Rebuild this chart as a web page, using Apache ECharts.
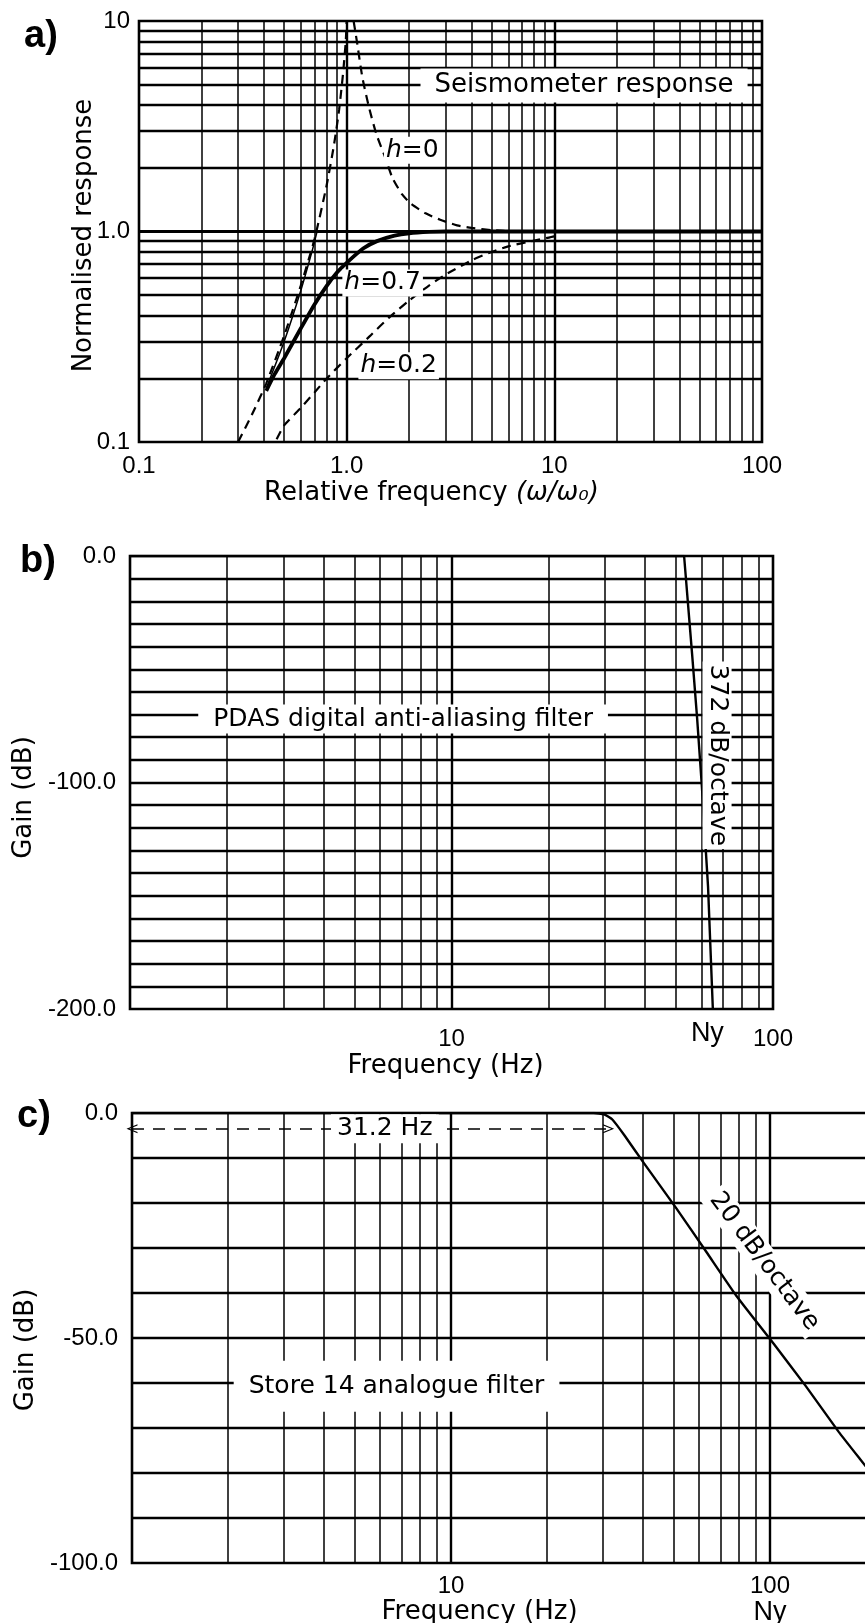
<!DOCTYPE html>
<html><head><meta charset="utf-8">
<script src="https://cdn.jsdelivr.net/npm/echarts@6/dist/echarts.min.js"></script>
<style>html,body{margin:0;padding:0;background:#fff}#c{width:865px;height:1623px}</style>
</head><body><div id="c"></div>
<script>
// ---------- Panel a data (relative frequency, normalised response) ----------
const aH0Left  = [[0.3,0.1],[0.35,0.135],[0.41,0.19],[0.5,0.32],[0.6,0.55],[0.7,0.92],[0.8,1.65],[0.87,2.6],[0.92,3.8],[0.96,5.6],[0.99,8],[1.0,10]];
const aH0Right = [[1.08,10],[1.12,8],[1.19,5.4],[1.28,3.9],[1.39,2.9],[1.52,2.3],[1.66,1.8],[1.85,1.5],[2.05,1.35],[2.4,1.22],[2.8,1.14],[3.4,1.07],[4,1.04],[5,1.015],[6.5,1.0],[100,1.0]];
const aThin    = [[0.41,0.18],[0.5,0.3],[0.6,0.52],[0.68,0.8],[0.72,1.0]];
const aH07     = [[0.41,0.175],[0.45,0.21],[0.5,0.25],[0.6,0.345],[0.7,0.45],[0.8,0.55],[0.9,0.64],[1.0,0.71],[1.2,0.83],[1.4,0.9],[1.7,0.955],[2,0.98],[2.5,0.995],[3,1.0],[100,1.0]];
const aH02     = [[0.46,0.103],[0.5,0.12],[0.6,0.145],[0.7,0.172],[0.8,0.2],[1,0.25],[1.3,0.32],[1.6,0.39],[2,0.47],[2.5,0.555],[3,0.625],[4,0.73],[5,0.8],[6,0.85],[8,0.905],[10,0.95],[10.5,0.985]];
const aGridX = [0.2,0.3,0.4,0.5,0.6,0.7,0.8,0.9,1,2,3,4,5,6,7,8,9,10,20,30,40,50,60,70,80,90];
const aGridY = [0.2,0.3,0.4,0.5,0.6,0.7,0.8,0.9,1,2,3,4,5,6,7,8,9];
const aMajor = [1,10];
const aXLabels = {'-1':'0.1','0':'1.0','1':'10','2':'100'};
const aYLabels = {'-1':'0.1','0':'1.0','1':'10'};

// ---------- Panel b data (Hz, dB) ----------
const bCurve = [[1,0],[52.9,0],[56,-43],[58.1,-72],[60.1,-102],[62.8,-146],[65,-200]];
const bGridX = [2,3,4,5,6,7,8,9,10,20,30,40,50,60,70,80,90];
const bGridY = [-10,-20,-30,-40,-50,-60,-70,-80,-90,-100,-110,-120,-130,-140,-150,-160,-170,-180,-190];
const bXLabels = {'0':'','1':'10','2':'100'};
const bNy = 62.5;

// ---------- Panel c data (Hz, dB) ----------
const cCurve = [[1,0],[28,0],[30.2,-0.3],[32.1,-1.5],[35,-5],[40.3,-11.2],[51,-21.3],[63.2,-30.9],[78.4,-40.6],[103,-51.4],[129.5,-60.7],[164,-70.8],[192,-77],[230,-84]];
const cArrow = [[1,-3.5],[31.2,-3.5]];
const cGridX = [2,3,4,5,6,7,8,9,10,20,30,40,50,60,70,80,90,100,200,300,400,500,600,700,800,900];
const cGridY = [-10,-20,-30,-40,-50,-60,-70,-80,-90];
const cXLabels = {'0':'','1':'10','2':'100','3':'1000'};
const cNy = 100;

// ---------- styling helpers ----------
const TF = '"DejaVu Sans", "Liberation Sans", sans-serif';
const NF = '"Liberation Sans", Arial, sans-serif';
const lg = v => Math.round(Math.log10(v));

function gridLines(i, vx, vy, majors) {
  const d = vx.map(v => ({xAxis: v, lineStyle: {width: majors.includes(v) ? 2.4 : 1.5}}))
    .concat(vy.map(v => ({yAxis: v, lineStyle: {width: majors.includes(v) ? 2.8 : 2.4}})));
  return {type:'line', xAxisIndex:i, yAxisIndex:i, data:[], z:1, silent:true, symbol:'none',
    markLine:{silent:true, symbol:['none','none'], label:{show:false}, animation:false,
      lineStyle:{type:'solid', color:'#000'}, emphasis:{disabled:true}, data:d}};
}
function curve(i, data, w, dashed, smooth) {
  return {type:'line', xAxisIndex:i, yAxisIndex:i, data:data, z:3, symbol:'none', silent:true,
    smooth: smooth, lineStyle:{color:'#000', width:w, type: dashed ? [9,6] : 'solid'}};
}
function note(i, pos, text, opt) {
  opt = opt || {};
  return {type:'scatter', xAxisIndex:i, yAxisIndex:i, data:[pos], symbolSize:0, z:5, silent:true,
    label:{show:true, position: opt.position || 'inside', distance: opt.distance || 0,
      formatter:text, color:'#000', opacity:1, textBorderWidth:0, textBorderColor:'transparent',
      textShadowBlur:0, fontSize: opt.size || 25, fontFamily: opt.font || TF,
      backgroundColor: opt.bg === false ? 'transparent' : '#fff', padding: opt.pad || [2,4],
      rotate: opt.rotate || 0,
      rich:{i:{fontStyle:'italic', fontSize: opt.size || 25, fontFamily: TF, color:'#000'}}}};
}
function xAx(i, min, max, labels, margin, name, gap, nameStyle, extra) {
  return Object.assign({gridIndex:i, type:'log', logBase:10, min:min, max:max,
    axisLine:{show:false}, axisTick:{show:false}, splitLine:{show:false}, minorSplitLine:{show:false},
    axisLabel:{show:true, margin:margin, fontSize:24, fontFamily:NF, color:'#000', showMinLabel:true, showMaxLabel:true,
      formatter: v => labels[lg(v)] || ''},
    name:name, nameLocation:'middle', nameGap:gap,
    nameTextStyle: Object.assign({fontSize:26, fontFamily:TF, color:'#000'}, nameStyle || {})}, extra || {});
}
function yAxVal(i, min, max, interval, margin, name, gap, nameStyle) {
  return {gridIndex:i, type:'value', min:min, max:max, interval:interval,
    axisLine:{show:false}, axisTick:{show:false}, splitLine:{show:false},
    axisLabel:{margin:margin, fontSize:24, fontFamily:NF, color:'#000', formatter: v => v.toFixed(1)},
    name:name, nameLocation:'middle', nameGap:gap,
    nameTextStyle: Object.assign({fontSize:26, fontFamily:TF, color:'#000'}, nameStyle || {})};
}

const chart = echarts.init(document.getElementById('c'), null, {renderer:'canvas'});
const border = {show:true, borderColor:'#000', borderWidth:2.6, backgroundColor:'transparent', containLabel:false, outerBoundsMode:'none'};
const chevron = 'path://M0,10 L5,0 L10,10 L8.6,10 L5,2.6 L1.4,10 Z';
chart.setOption({
  animation:false,
  backgroundColor:'#fff',
  grid:[
    Object.assign({left:139, top:21, width:623, height:421}, border),
    Object.assign({left:130, top:556, width:643, height:453}, border),
    Object.assign({left:132, top:1113, width:957, height:450}, border)
  ],
  xAxis:[
    xAx(0, 0.1, 100, aXLabels, 12, 'Relative frequency {i|(ω/ω₀)}', 38,
      {padding:[0,38,0,0], rich:{i:{fontStyle:'italic', fontSize:26, fontFamily:TF, color:'#000'}}}),
    xAx(1, 1, 100, bXLabels, 18, 'Frequency (Hz)', 44, {padding:[0,12,0,0]}),
    xAx(2, 1, 1000, cXLabels, 11, 'Frequency (Hz)', 34, {padding:[0,262,0,0]})
  ],
  yAxis:[
    xAx(0, 0.1, 10, aYLabels, 9, 'Normalised response', 42, {padding:[0,8,0,0]}, {nameMoveOverlap:false}),
    yAxVal(1, -200, 0, 100, 14, 'Gain (dB)', 91, {padding:[0,30,0,0]}),
    yAxVal(2, -100, 0, 50, 14, 'Gain (dB)', 91, {padding:[0,24,0,0]})
  ],
  graphic:[
    {type:'text', left:24, top:18, style:{text:'a)', font:'bold 38px "Liberation Sans"', fill:'#000'}},
    {type:'text', left:20, top:543, style:{text:'b)', font:'bold 38px "Liberation Sans"', fill:'#000'}},
    {type:'text', left:17, top:1098, style:{text:'c)', font:'bold 38px "Liberation Sans"', fill:'#000'}}
  ],
  series:[
    gridLines(0, aGridX, aGridY, aMajor),
    curve(0, aH0Left, 2.2, true, 0.2),
    curve(0, aH0Right, 2.2, true, 0.2),
    curve(0, aThin, 1.5, false, 0.2),
    curve(0, aH07, 3.8, false, 0.2),
    curve(0, aH02, 2.2, true, 0.2),
    note(0, [13.9, 4.94], 'Seismometer response', {pad:[4,14], size:26}),
    note(0, [2.07, 2.43], '{i|h}=0', {pad:[1,2]}),
    note(0, [1.49, 0.57], '{i|h}=0.7', {pad:[1,2]}),
    note(0, [1.78, 0.23], '{i|h}=0.2', {pad:[1,2]}),

    gridLines(1, bGridX, bGridY, [10]),
    curve(1, bCurve, 2.4, false, false),
    note(1, [7.07, -72], 'PDAS digital anti-aliasing filter', {pad:[2,15]}),
    note(1, [67, -88], '372 dB/octave', {pad:[2,3], rotate:-90}),
    note(1, [bNy, -200], 'Ny', {position:'bottom', distance:9, bg:false, size:27, font:NF, pad:0}),

    gridLines(2, cGridX, cGridY, [10,100]),
    curve(2, cCurve, 2.4, false, 0.15),
    {type:'line', xAxisIndex:2, yAxisIndex:2, data:[], z:4, silent:true,
      markLine:{silent:true, animation:false, label:{show:false},
        symbol:[chevron, chevron], symbolSize:[9,11],
        lineStyle:{type:[12,9], color:'#000', width:1.7},
        data:[[{coord:cArrow[0]},{coord:cArrow[1]}]]}},
    note(2, [6.2, -3.5], '31.2 Hz', {pad:[2,6]}),
    note(2, [6.75, -60.7], 'Store 14 analogue filter', {pad:[13,15]}),
    note(2, [96, -33], '20 dB/octave', {pad:[2,4], rotate:-53}),
    note(2, [cNy, -100], 'Ny', {position:'bottom', distance:34, bg:false, size:27, font:NF, pad:0})
  ]
});
</script></body></html>
